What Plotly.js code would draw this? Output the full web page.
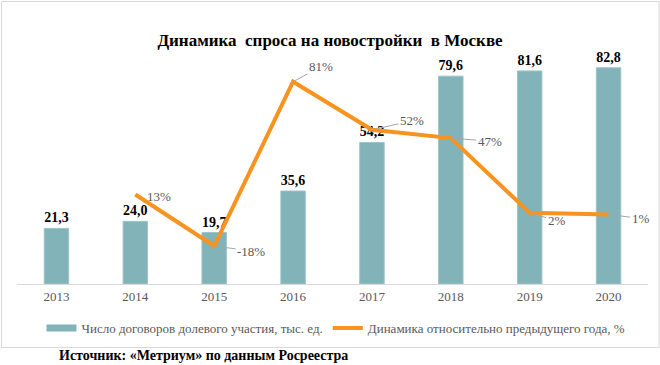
<!DOCTYPE html>
<html>
<head>
<meta charset="utf-8">
<script src="https://cdn.plot.ly/plotly-3.0.1.min.js"></script>
<style>html,body{margin:0;padding:0;background:#fff;}#chart{width:660px;height:365px;}</style>
</head>
<body>
<div id="chart"></div>
<script>
// ---- data ----
const years = ['2013','2014','2015','2016','2017','2018','2019','2020'];
const contracts = [21.3, 24.0, 19.7, 35.6, 54.2, 79.6, 81.6, 82.8];
const growthPct = [null, 13, -18, 81, 52, 47, 2, 1];
const seriesNames = ['Число договоров долевого участия, тыс. ед.', 'Динамика относительно предыдущего года, %'];
const titleText = 'Динамика  спроса на новостройки  в Москве';
const sourceText = 'Источник: «Метриум» по данным Росреестра';

// label offsets (styling, px)
const labelAx = [0, 24, 37, 28, 40, 39, 27, 32];
const labelAy = [0, 2, 5, -15, -9, 3, 8, 4];

const barColor = '#82b3b8';
const lineColor = '#f7931e';
const serif = "'Liberation Serif', 'Times New Roman', serif";

const traces = [
  {
    type: 'bar', x: years, y: contracts, name: seriesNames[0], showlegend: false,
    marker: {color: barColor, line: {color: '#9cc4c8', width: 1}},
    width: 0.31,
    texttemplate: '%{y:.1f}', textposition: 'outside', cliponaxis: false,
    textfont: {family: serif, size: 14, color: '#000', weight: 'bold'},
    hoverinfo: 'skip'
  },
  {
    type: 'scatter', mode: 'lines', x: [years[0], years[1]], y: [null, null], name: seriesNames[0],
    line: {color: barColor, width: 7}, hoverinfo: 'skip', showlegend: true
  },
  {
    type: 'scatter', mode: 'lines', x: years, y: growthPct, name: seriesNames[1],
    yaxis: 'y2', line: {color: lineColor, width: 4}, connectgaps: false, hoverinfo: 'skip'
  }
];

const annotations = [];
years.forEach((yr, i) => {
  const v = growthPct[i];
  if (v === null) return;
  const a = {
    x: i, y: v, xref: 'x', yref: 'y2', text: v + '%',
    font: {family: serif, size: 13, color: '#595959'}
  };
  if (i === 1) {
    a.showarrow = false; a.xshift = labelAx[i]; a.yshift = -labelAy[i];
  } else {
    a.showarrow = true; a.arrowhead = 0; a.arrowwidth = 1; a.arrowcolor = '#a6a6a6';
    a.ax = labelAx[i]; a.ay = labelAy[i]; a.standoff = 0; a.startstandoff = 0;
  }
  annotations.push(a);
});
annotations.push({
  xref: 'paper', yref: 'paper', x: (57 - 17) / 631, y: -(355 - 284) / 235,
  xanchor: 'left', yanchor: 'middle', showarrow: false, text: '<b>' + sourceText + '</b>',
  font: {family: serif, size: 14, color: '#000'}
});

const layout = {
  width: 660, height: 365,
  margin: {l: 17, r: 12, t: 49, b: 81},
  paper_bgcolor: '#fff', plot_bgcolor: '#fff',
  separators: ', ',
  title: {
    text: '<b>' + titleText + '</b>', x: 0.5, xanchor: 'center',
    y: 1 - 40 / 365, yanchor: 'middle', yref: 'container',
    font: {family: serif, size: 17, color: '#000'}
  },
  xaxis: {
    type: 'category', categoryorder: 'array', categoryarray: years, range: [-0.5, 7.5],
    showgrid: false, zeroline: false,
    showline: true, linecolor: '#d9d9d9', linewidth: 1,
    ticks: '', tickfont: {family: serif, size: 13, color: '#595959'}
  },
  yaxis: {range: [0, 90], visible: false, showgrid: false, zeroline: false},
  yaxis2: {range: [-40.9, 100.7], overlaying: 'y', side: 'right', visible: false, showgrid: false, zeroline: false},
  showlegend: true,
  legend: {
    orientation: 'h', x: (336 - 17) / 631, xanchor: 'center', y: -(328 - 284) / 235, yanchor: 'middle',
    font: {family: serif, size: 13, color: '#595959'}, bgcolor: 'rgba(0,0,0,0)', itemwidth: 30,
    tracegroupgap: 0
  },
  annotations: annotations,
  shapes: [{
    type: 'rect', xref: 'paper', yref: 'paper',
    x0: (1.5 - 17) / 631, x1: (659 - 17) / 631,
    y0: -(347.5 - 284) / 235, y1: (284 - 1.5) / 235,
    line: {color: '#d9d9d9', width: 1}, fillcolor: 'rgba(0,0,0,0)', layer: 'below'
  }]
};

Plotly.newPlot('chart', traces, layout, {staticPlot: true, displayModeBar: false});
</script>
</body>
</html>
